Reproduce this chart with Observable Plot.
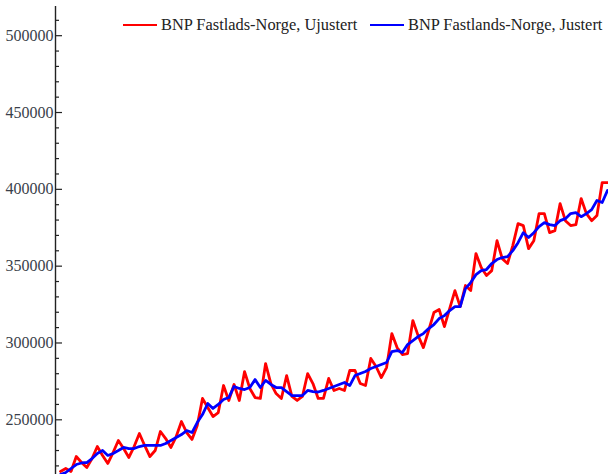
<!DOCTYPE html>
<html>
<head>
<meta charset="utf-8">
<script src="https://cdn.jsdelivr.net/npm/d3@7"></script>
<script src="https://cdn.jsdelivr.net/npm/@observablehq/plot@0.6"></script>
<style>
  html, body { margin: 0; padding: 0; background: #fff; }
  #wrap { position: relative; width: 608px; height: 474px; overflow: hidden; }
  #legend { position: absolute; top: 14px; left: 0; font-family: "Liberation Serif", "Times New Roman", serif; font-size: 16.4px; color: #222; white-space: nowrap; }
  .item { position: absolute; top: 0; display: flex; align-items: center; height: 22px; }
  .sw { display: inline-block; width: 34px; height: 0; border-top: 2.5px solid; margin-right: 4px; }
</style>
</head>
<body>
<div id="wrap"><div id="legend"></div></div>
<script>
// Quarterly index (x axis is not shown in the reference)
const seriesNames = ["BNP Fastlads-Norge, Ujustert", "BNP Fastlands-Norge, Justert"];
const seriesColors = ["#ff0000", "#0000ff"];

// Unadjusted mainland GDP
const ujustert = [
  216400, 218300, 216400, 226100, 222200, 219000, 224800, 232600, 226800, 221600,
  228700, 236500, 231300, 225500, 232600, 241100, 233300, 226100, 230000, 242400,
  237800, 232000, 239100, 248900, 241700, 237200, 246300, 263900, 258000, 252100,
  254700, 272300, 262600, 273000, 262600, 281400, 270400, 264500, 263900, 286600,
  273600, 267100, 263900, 278800, 265200, 262600, 265200, 280100, 273600, 263900,
  263900, 276900, 269100, 270400, 269100, 282100, 282100, 273600, 272300, 289900,
  284700, 277500, 284000, 306100, 297000, 292500, 293100, 314600, 304800, 297000,
  308100, 319800, 321800, 310700, 322400, 334100, 323700, 337400, 334100, 358200,
  349100, 343900, 347100, 366600, 354900, 351700, 363400, 377700, 376400, 361400,
  366600, 384200, 384200, 371800, 373100, 390700, 379600, 376400, 377000, 394000,
  384200, 379600, 382900, 404400, 404400
];

// Seasonally adjusted mainland GDP
const justert = [
  214400, 215700, 218300, 220900, 221900, 222200, 224800, 228100, 230000, 226800,
  228100, 230000, 232000, 231300, 231300, 232600, 233300, 233300, 233300, 233300,
  234600, 236500, 238500, 240400, 243000, 241700, 248200, 253400, 260600, 257400,
  260000, 263200, 264500, 271700, 270400, 269700, 271000, 276200, 271000, 275600,
  273000, 271000, 271000, 268400, 265800, 265800, 265800, 269100, 268400, 268100,
  269100, 270400, 271700, 273000, 274300, 272300, 278800, 280100, 281400, 283400,
  284700, 286000, 287300, 294400, 295100, 293800, 299000, 301600, 304200, 306100,
  309400, 312000, 315900, 317800, 321100, 323700, 323700, 335400, 339300, 344500,
  347100, 347800, 351700, 354300, 355600, 356200, 360100, 365300, 371800, 368600,
  371800, 375700, 378300, 377000, 376400, 379600, 380900, 384200, 384800, 382200,
  384200, 386800, 392700, 391400, 399200
];

const majorTicks = [250000, 300000, 350000, 400000, 450000, 500000];
const minorTicks = d3.range(220000, 520000, 10000).filter(v => !majorTicks.includes(v));

const quarters = d3.range(ujustert.length);
const data = [
  ...quarters.map(i => ({q: i, v: ujustert[i], s: seriesNames[0]})),
  ...quarters.map(i => ({q: i, v: justert[i], s: seriesNames[1]}))
];

const W = 608, H = 474, ML = 55, MT = 6;
const chart = Plot.plot({
  width: W, height: H,
  marginLeft: ML, marginRight: 0, marginTop: MT, marginBottom: 0,
  x: {domain: [-0.95, 104.2], axis: null},
  y: {domain: [214400, 519000], axis: null},
  color: {domain: seriesNames, range: seriesColors},
  style: {background: "#fff", overflow: "visible"},
  marks: [
    Plot.line(data, {x: "q", y: "v", z: "s", stroke: "s", strokeWidth: 2.8, strokeLinejoin: "round", clip: true}),
    Plot.ruleX([-0.95], {stroke: "#222", strokeWidth: 1.4}),
    Plot.tickY(majorTicks, {y: d => d, stroke: "#222", strokeWidth: 1.2, insetRight: W - ML - 7}),
    Plot.tickY(minorTicks, {y: d => d, stroke: "#222", strokeWidth: 1.2, insetRight: W - ML - 4}),
    Plot.text(majorTicks, {y: d => d, frameAnchor: "left", dx: -2, textAnchor: "end", text: d => String(d),
      fontFamily: "Liberation Serif", fontSize: 16, fill: "#3a3f4a"})
  ]
});
document.getElementById("wrap").prepend(chart);

const legend = document.getElementById("legend");
const lefts = [123, 370];
seriesNames.forEach((name, k) => {
  const it = document.createElement("div");
  it.className = "item";
  it.style.left = lefts[k] + "px";
  const sw = document.createElement("span");
  sw.className = "sw";
  sw.style.borderColor = seriesColors[k];
  it.appendChild(sw);
  it.appendChild(document.createTextNode(name));
  legend.appendChild(it);
});
</script>
</body>
</html>
